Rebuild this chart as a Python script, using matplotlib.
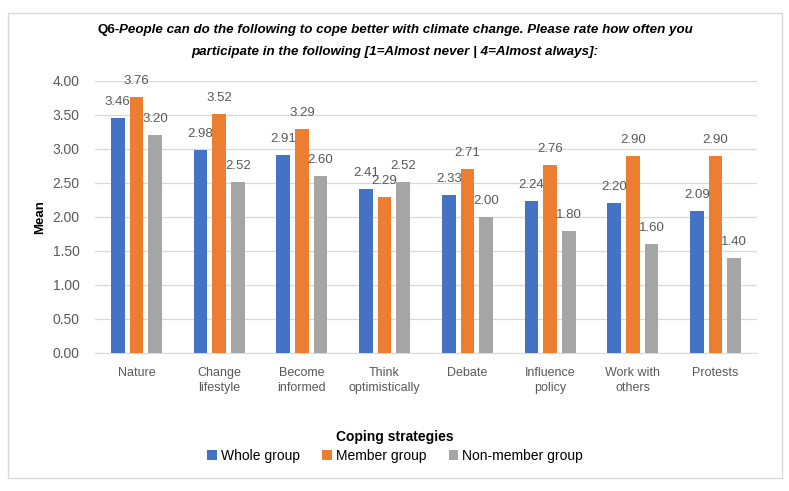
import matplotlib
matplotlib.use("Agg")
import matplotlib.pyplot as plt
import numpy as np
from matplotlib.patches import Rectangle
from matplotlib import font_manager

categories = ["Nature", "Change\nlifestyle", "Become\ninformed", "Think\noptimistically",
              "Debate", "Influence\npolicy", "Work with\nothers", "Protests"]
whole_group = [3.46, 2.98, 2.91, 2.41, 2.33, 2.24, 2.20, 2.09]
member_group = [3.76, 3.52, 3.29, 2.29, 2.71, 2.76, 2.90, 2.90]
non_member_group = [3.20, 2.52, 2.60, 2.52, 2.00, 1.80, 1.60, 1.40]
series_names = ["Whole group", "Member group", "Non-member group"]
y_ticks = [0.0, 0.5, 1.0, 1.5, 2.0, 2.5, 3.0, 3.5, 4.0]

colors = ["#4472C4", "#ED7D31", "#A5A5A5"]
text_gray = "#595959"

names = {f.name for f in font_manager.fontManager.ttflist}
font = "Liberation Sans Narrow" if "Liberation Sans Narrow" in names else "Liberation Sans"
plt.rcParams["font.family"] = [font, "DejaVu Sans"]

fig = plt.figure(figsize=(7.89, 4.91), dpi=100)
W, H = 789, 491

# outer chart border
fig.patches.append(Rectangle((8 / W, 1 - 478 / H), 774 / W, 465 / H, transform=fig.transFigure,
                             fill=False, edgecolor="#D9D9D9", linewidth=1.0))

ax = fig.add_axes([95 / W, 1 - 353 / H, 662 / W, 272 / H])

x = np.arange(len(categories))
width = 0.165
offset = 0.225
for i, (vals, name) in enumerate(zip([whole_group, member_group, non_member_group], series_names)):
    bars = ax.bar(x + (i - 1) * offset, vals, width, color=colors[i], label=name, zorder=3)
    for b, v in zip(bars, vals):
        ax.text(b.get_x() + b.get_width() / 2, v + 0.235, f"{v:.2f}", ha="center", va="center",
                fontsize=9.5, color=text_gray, zorder=4)

ax.set_xlim(-0.5, len(categories) - 0.5)
ax.set_ylim(0, 4.0)
ax.set_yticks(y_ticks)
ax.set_yticklabels([f"{t:.2f}" for t in y_ticks], fontsize=10, color=text_gray)
ax.set_xticks(x)
ax.set_xticklabels(categories, fontsize=9, color=text_gray, linespacing=1.3)
ax.tick_params(axis="y", length=0, pad=11)
ax.tick_params(axis="x", length=0, pad=10)
ax.grid(axis="y", color="#D9D9D9", linewidth=0.9, zorder=0)
for s in ["top", "right", "left"]:
    ax.spines[s].set_visible(False)
ax.spines["bottom"].set_color("#D9D9D9")

ax.set_ylabel("Mean", fontsize=9.5, fontweight="bold")
ax.yaxis.set_label_coords(-0.074, 0.5)
fig.text(395 / W, 1 - 437 / H, "Coping strategies", ha="center", va="center",
         fontsize=10, fontweight="bold")

ax.legend(loc="center", bbox_to_anchor=(395 / W, 1 - 456 / H), bbox_transform=fig.transFigure,
          ncol=3, frameon=False, fontsize=10, handlelength=0.7, handleheight=0.7,
          handletextpad=0.3, columnspacing=1.6)

# title: "Q6-" upright, the rest bold italic
line1a = "Q6-"
line1b = "People can do the following to cope better with climate change. Please rate how often you"
line2 = "participate in the following [1=Almost never | 4=Almost always]:"
fig.canvas.draw()
r = fig.canvas.get_renderer()
ta = fig.text(0, 1 - 30 / H, line1a, fontsize=9.6, fontweight="bold", va="center")
tb = fig.text(0, 1 - 30 / H, line1b, fontsize=9.6, fontweight="bold", style="italic", va="center")
wa = ta.get_window_extent(r).width
wb = tb.get_window_extent(r).width
start = (395 - (wa + wb) / 2) / W
ta.set_x(start)
tb.set_x(start + wa / W)
fig.text(395 / W, 1 - 52 / H, line2, fontsize=9.6, fontweight="bold", style="italic",
         ha="center", va="center")

fig.savefig("out.png", dpi=100)
